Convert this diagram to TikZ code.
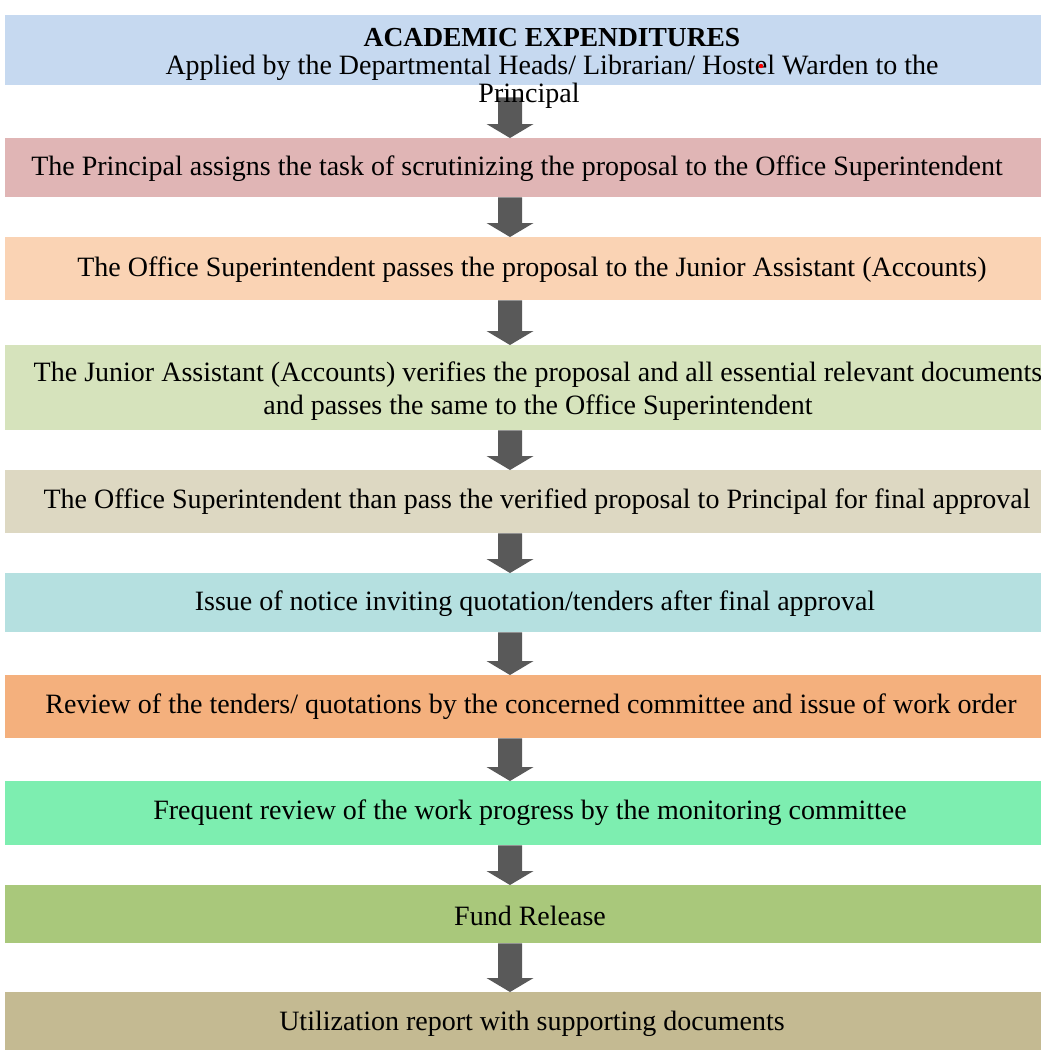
\documentclass[tikz,border=0pt]{standalone}
\usepackage{fontspec}
\setmainfont{Liberation Serif}
\usetikzlibrary{calc}
\definecolor{cBlue}{HTML}{C6D9F0}
\definecolor{cRed}{HTML}{E0B5B5}
\definecolor{cPeach}{HTML}{FAD3B4}
\definecolor{cLGreen}{HTML}{D6E3BC}
\definecolor{cTan}{HTML}{DDD8C2}
\definecolor{cCyan}{HTML}{B5E0E0}
\definecolor{cOrange}{HTML}{F4B07D}
\definecolor{cMint}{HTML}{7DEEB0}
\definecolor{cGreen}{HTML}{A9C87B}
\definecolor{cKhaki}{HTML}{C4BA92}
\definecolor{cArrow}{HTML}{595959}
\newcommand\flowarr[2]{%
  \path #1 coordinate (fa-s);
  \path #2 coordinate (fa-t);
  \fill[arrowfill] ($(fa-s)+(-12,0)$) -- ($(fa-s)+(12,0)$) -- ($(fa-t)+(12,-14)$)
    -- ($(fa-t)+(23.5,-14)$) -- (fa-t) -- ($(fa-t)+(-23.5,-14)$) -- ($(fa-t)+(-12,-14)$) -- cycle;}
\begin{document}
\begin{tikzpicture}[x=1pt,y=-1pt,
  flowbox/.style={rectangle, draw=none, inner sep=0pt, minimum width=1060pt, anchor=north west},
  txt/.style={inner sep=0pt, align=center, font=\fontsize{28}{33}\selectfont, text=black},
  arrowfill/.style={fill=cArrow}]
\useasboundingbox (0,0) rectangle (1041,1050);
\fill[white] (0,0) rectangle (1041,1050);
\coordinate (axis) at (510,0);
% boxes
\node[flowbox, fill=cBlue,   minimum height=70pt] (b1)  at (5,15)  {};
\node[flowbox, fill=cRed,    minimum height=59pt] (b2)  at (5,138) {};
\node[flowbox, fill=cPeach,  minimum height=63pt] (b3)  at (5,237) {};
\node[flowbox, fill=cLGreen, minimum height=85pt] (b4)  at (5,345) {};
\node[flowbox, fill=cTan,    minimum height=63pt] (b5)  at (5,470) {};
\node[flowbox, fill=cCyan,   minimum height=59pt] (b6)  at (5,573) {};
\node[flowbox, fill=cOrange, minimum height=63pt] (b7)  at (5,675) {};
\node[flowbox, fill=cMint,   minimum height=64pt] (b8)  at (5,781) {};
\node[flowbox, fill=cGreen,  minimum height=58pt] (b9)  at (5,885) {};
\node[flowbox, fill=cKhaki,  minimum height=62pt] (b10) at (5,992) {};
% connectors
\flowarr{($(b1.south -| axis)+(0,12)$)}{(b2.north -| axis)}
\flowarr{(b2.south -| axis)}{(b3.north -| axis)}
\flowarr{(b3.south -| axis)}{(b4.north -| axis)}
\flowarr{(b4.south -| axis)}{(b5.north -| axis)}
\flowarr{(b5.south -| axis)}{(b6.north -| axis)}
\flowarr{(b6.south -| axis)}{(b7.north -| axis)}
\flowarr{(b7.south -| axis)}{(b8.north -| axis)}
\flowarr{(b8.south -| axis)}{(b9.north -| axis)}
\flowarr{(b9.south -| axis)}{(b10.north -| axis)}
% texts
\node[txt, font=\fontsize{27.5}{33}\selectfont\bfseries] (t1a) at (552,38) {ACADEMIC EXPENDITURES};
\node[txt] (t1b) at (552,68) {Applied by the Departmental Heads/ Librarian/ Hostel Warden to the};
\node[txt] (t1c) at (529,96) {Principal};
\fill[red] (761,66) circle (2.2pt);
\node[txt] (t2) at (517,169) {The Principal assigns the task of scrutinizing the proposal to the Office Superintendent};
\node[txt] (t3) at (532,270) {The Office Superintendent passes the proposal to the Junior Assistant (Accounts)};
\node[txt] (t4) at (538,391) {The Junior Assistant (Accounts) verifies the proposal and all essential relevant documents\\and passes the same to the Office Superintendent};
\node[txt] (t5) at (537,502) {The Office Superintendent than pass the verified proposal to Principal for final approval};
\node[txt] (t6) at (535,604) {Issue of notice inviting quotation/tenders after final approval};
\node[txt] (t7) at (531,707) {Review of the tenders/ quotations by the concerned committee and issue of work order};
\node[txt] (t8) at (530,813) {Frequent review of the work progress by the monitoring committee};
\node[txt] (t9) at (530,916) {Fund Release};
\node[txt] (t10) at (532,1024) {Utilization report with supporting documents};
\end{tikzpicture}
\end{document}
